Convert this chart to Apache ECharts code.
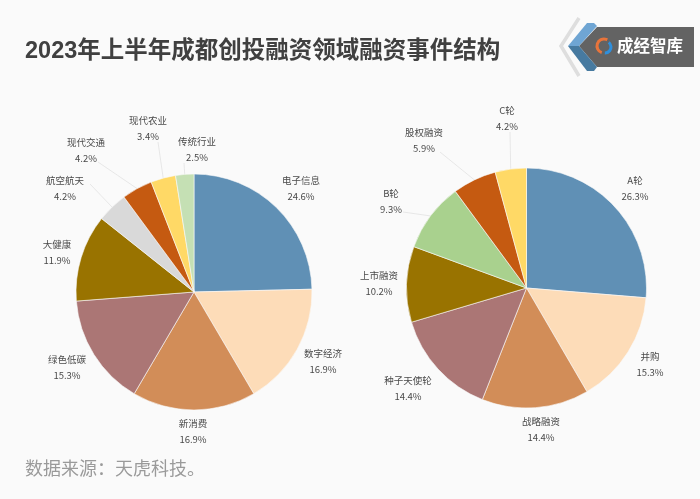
<!DOCTYPE html>
<html>
<head>
<meta charset="utf-8">
<script src="https://cdn.jsdelivr.net/npm/echarts@6/dist/echarts.min.js"></script>
<style>
html, body { margin: 0; padding: 0; background: #fafafa; }
#main { width: 700px; height: 499px; }
</style>
</head>
<body>
<div id="main"></div>
<script>
var fieldNames = ['电子信息', '数字经济', '新消费', '绿色低碳', '大健康', '航空航天', '现代交通', '现代农业', '传统行业'];
var fieldValues = [24.6, 16.9, 16.9, 15.3, 11.9, 4.2, 4.2, 3.4, 2.5];
var fieldColors = ['#6090b5', '#fddcb8', '#d28d58', '#ab7675', '#997300', '#d9d9d9', '#c55a11', '#ffd966', '#c5e0b4'];

var roundNames = ['A轮', '并购', '战略融资', '种子天使轮', '上市融资', 'B轮', '股权融资', 'C轮'];
var roundValues = [26.3, 15.3, 14.4, 14.4, 10.2, 9.3, 5.9, 4.2];
var roundColors = ['#6090b5', '#fddcb8', '#d28d58', '#ab7675', '#997300', '#a9d18e', '#c55a11', '#ffd966'];

// label centres
var fieldSpots = [[301, 188], [323, 361], [193, 431], [67, 367], [57, 252], [65, 188], [86, 150], [148, 128], [197, 149]];
var roundSpots = [[635, 188], [650, 364], [541, 429], [408, 388], [379, 283], [391, 201], [424, 140], [507, 118]];
// where the leader lines stop, only the small slices have one
var fieldLineEnds = { 5: [90, 184], 6: [98, 162], 7: [158, 142], 8: [184, 163] };
var roundLineEnds = { 5: [403, 212], 6: [440, 152], 7: [510, 132] };

var fontName = '"Noto Sans CJK SC", "Noto Sans", sans-serif';

function pieSeries(names, values, colors, spots, lineEnds, center, radius) {
    return {
        type: 'pie',
        center: center,
        radius: radius,
        startAngle: 90,
        clockwise: true,
        silent: true,
        animation: false,
        itemStyle: { borderColor: '#fafafa', borderWidth: 0.6 },
        label: {
            show: true,
            position: 'outside',
            formatter: function (p) { return p.name + '\n' + p.value + '%'; },
            color: '#4a4a4a',
            fontFamily: fontName,
            fontSize: 9.5,
            lineHeight: 16,
            align: 'center'
        },
        labelLine: { show: false, length: 8, length2: 8, lineStyle: { color: '#e2e2e2', width: 0.8 } },
        labelLayout: function (p) {
            var s = spots[p.dataIndex];
            var layout = { x: s[0], y: s[1], align: 'center', verticalAlign: 'middle' };
            var end = lineEnds[p.dataIndex];
            if (end && p.labelLinePoints) {
                var from = p.labelLinePoints[0];
                layout.labelLinePoints = [from, [(from[0] + end[0]) / 2, (from[1] + end[1]) / 2], end];
            }
            return layout;
        },
        data: names.map(function (n, i) {
            return {
                name: n,
                value: values[i],
                itemStyle: { color: colors[i] },
                labelLine: { show: !!lineEnds[i] }
            };
        })
    };
}

var myChart = echarts.init(document.getElementById('main'));

var option = {
    backgroundColor: '#fafafa',
    title: {
        text: '2023年上半年成都创投融资领域融资事件结构',
        left: 20,
        top: 35,
        textStyle: { color: '#404040', fontSize: 23.5, fontWeight: 'bold', fontFamily: '"Liberation Sans", "Noto Sans CJK SC", sans-serif' }
    },
    graphic: [
        // logo badge
        { type: 'polyline', shape: { points: [[579, 18], [561, 46], [579, 76]] }, style: { stroke: '#dedede', lineWidth: 3.5, fill: null } },
        { type: 'polygon', shape: { points: [[579, 46], [597, 27], [694, 27], [694, 67], [597, 67]] }, style: { fill: '#636363' } },
        { type: 'polygon', shape: { points: [[568, 46], [587, 23], [594, 23], [597, 26], [579, 46]] }, style: { fill: '#6fa5d3' } },
        { type: 'polygon', shape: { points: [[568, 46], [579, 46], [597, 67], [594, 71], [587, 71]] }, style: { fill: '#477aa0' } },
        { type: 'arc', shape: { cx: 604, cy: 46, r: 7, startAngle: 1.9, endAngle: 5.2 }, style: { stroke: '#e8743b', lineWidth: 3, fill: null } },
        { type: 'arc', shape: { cx: 605, cy: 47, r: 6, startAngle: -0.9, endAngle: 1.6 }, style: { stroke: '#2f8fdc', lineWidth: 3, fill: null } },
        { type: 'text', x: 617, y: 46, style: { text: '成经智库', fill: '#ffffff', font: 'bold 16.5px "Noto Sans CJK SC", sans-serif', verticalAlign: 'middle' } },
        // source note
        { type: 'text', x: 25, y: 468, style: { text: '数据来源：天虎科技。', fill: '#9a9a9a', font: '18px "Noto Sans CJK SC", sans-serif', verticalAlign: 'middle' } }
    ],
    series: [
        pieSeries(fieldNames, fieldValues, fieldColors, fieldSpots, fieldLineEnds, [194, 292], 118),
        pieSeries(roundNames, roundValues, roundColors, roundSpots, roundLineEnds, [526.5, 288], 120)
    ]
};

myChart.setOption(option);
</script>
</body>
</html>
